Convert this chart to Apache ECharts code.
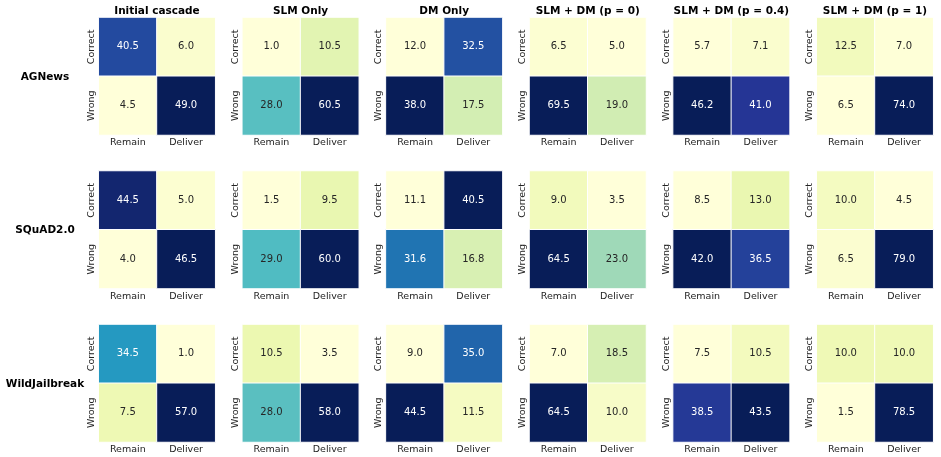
<!DOCTYPE html>
<html>
<head>
<meta charset="utf-8">
<script src="https://cdn.jsdelivr.net/npm/echarts@6/dist/echarts.min.js"></script>
<style>
  html, body { margin: 0; padding: 0; background: #fff; }
  #chart { width: 941px; height: 457px; }
</style>
</head>
<body>
<div id="chart"></div>
<script>
// data
const datasets = ["AGNews", "SQuAD2.0", "WildJailbreak"];
const methods = ["Initial cascade", "SLM Only", "DM Only", "SLM + DM (p = 0)", "SLM + DM (p = 0.4)", "SLM + DM (p = 1)"];
const xLabels = ["Remain", "Deliver"];
const yLabels = ["Correct", "Wrong"];

// each matrix: [[Correct-Remain, Correct-Deliver], [Wrong-Remain, Wrong-Deliver]]
const agnews = [
  [[40.5, 6.0], [4.5, 49.0]],
  [[1.0, 10.5], [28.0, 60.5]],
  [[12.0, 32.5], [38.0, 17.5]],
  [[6.5, 5.0], [69.5, 19.0]],
  [[5.7, 7.1], [46.2, 41.0]],
  [[12.5, 7.0], [6.5, 74.0]],
];
const squad = [
  [[44.5, 5.0], [4.0, 46.5]],
  [[1.5, 9.5], [29.0, 60.0]],
  [[11.1, 40.5], [31.6, 16.8]],
  [[9.0, 3.5], [64.5, 23.0]],
  [[8.5, 13.0], [42.0, 36.5]],
  [[10.0, 4.5], [6.5, 79.0]],
];
const wildjailbreak = [
  [[34.5, 1.0], [7.5, 57.0]],
  [[10.5, 3.5], [28.0, 58.0]],
  [[9.0, 35.0], [44.5, 11.5]],
  [[7.0, 18.5], [64.5, 10.0]],
  [[7.5, 10.5], [38.5, 43.5]],
  [[10.0, 10.0], [1.5, 78.5]],
];
const allRows = [agnews, squad, wildjailbreak];

const ylgnbu = ["#ffffd9", "#edf8b1", "#c7e9b4", "#7fcdbb", "#41b6c4", "#1d91c0", "#225ea8", "#253494", "#081d58"];

const chart = echarts.init(document.getElementById("chart"));

const grid = [], xAxis = [], yAxis = [], series = [], visualMap = [], graphic = [];
const left0 = 98.7, top0 = 17.5, colStep = 143.6, rowStep = 153.5, w = 116.5, h = 117.5;
const font = "DejaVu Sans";

const boldText = (text, x, y) => ({
  type: "text", x: x, y: y, silent: true,
  style: {
    text: text, fill: "#000", font: "bold 10.5px 'DejaVu Sans'",
    textAlign: "center", textVerticalAlign: "middle",
  },
});

allRows.forEach((row, r) => {
  const top = top0 + r * rowStep;
  // 行标签
  graphic.push(boldText(datasets[r], 45, top + h / 2 + 1));
  row.forEach((m, c) => {
    const i = grid.length;
    const left = left0 + c * colStep;
    grid.push({ left: left, top: top, width: w, height: h });
    if (r === 0) graphic.push(boldText(methods[c], left + w / 2, 11.5));
    xAxis.push({
      type: "category", gridIndex: i, data: xLabels, position: "bottom",
      axisLine: { show: false }, axisTick: { show: false }, splitArea: { show: false },
      axisLabel: { fontFamily: font, fontSize: 9.5, color: "#222", margin: 3 },
    });
    yAxis.push({
      type: "category", gridIndex: i, data: yLabels, inverse: true,
      axisLine: { show: false }, axisTick: { show: false },
      axisLabel: { fontFamily: font, fontSize: 9.5, color: "#222", rotate: 90, margin: 2 },
    });
    const flat = m.flat();
    const vmin = Math.min(...flat), vmax = Math.max(...flat);
    const data = [];
    m.forEach((rowVals, yi) => {
      rowVals.forEach((v, xi) => {
        const t = (v - vmin) / (vmax - vmin);
        data.push({ value: [xi, yi, v], label: { color: t > 0.55 ? "#ffffff" : "#262626" } });
      });
    });
    visualMap.push({
      show: false, seriesIndex: i, min: vmin, max: vmax, dimension: 2,
      inRange: { color: ylgnbu },
    });
    series.push({
      type: "heatmap", xAxisIndex: i, yAxisIndex: i, data: data,
      itemStyle: { borderColor: "#fff", borderWidth: 1 },
      label: { show: true, fontFamily: font, fontSize: 10, formatter: (p) => p.value[2].toFixed(1) },
      emphasis: { disabled: true },
    });
  });
});

chart.setOption({
  animation: false,
  grid: grid,
  xAxis: xAxis,
  yAxis: yAxis,
  visualMap: visualMap,
  series: series,
  graphic: graphic,
});
</script>
</body>
</html>
